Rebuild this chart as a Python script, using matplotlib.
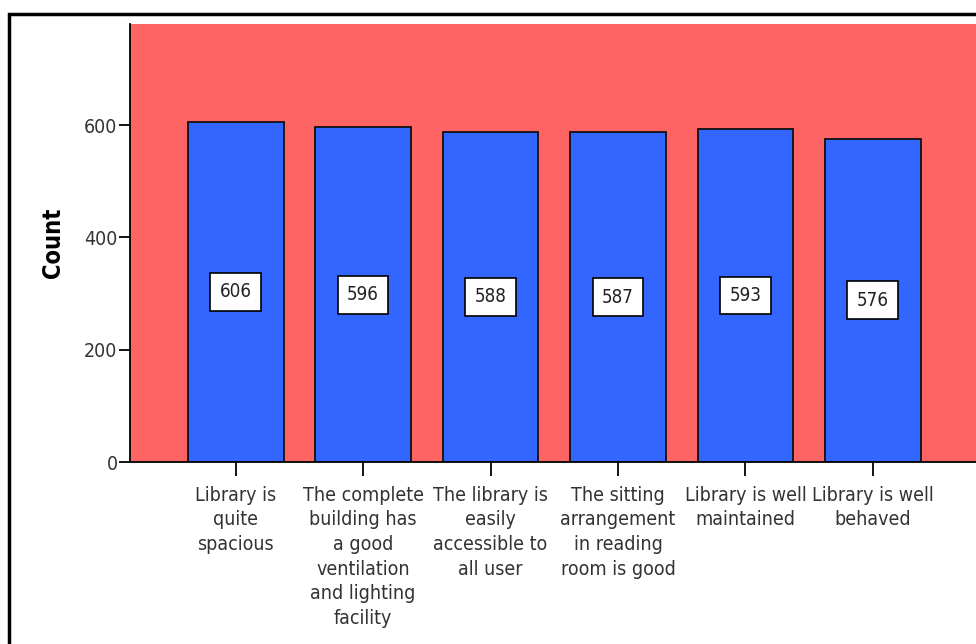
import matplotlib
matplotlib.use("Agg")
import matplotlib.pyplot as plt
from matplotlib.patches import Rectangle

# data
categories = ["Library is\nquite\nspacious",
              "The complete\nbuilding has\na good\nventilation\nand lighting\nfacility",
              "The library is\neasily\naccessible to\nall user",
              "The sitting\narrangement\nin reading\nroom is good",
              "Library is well\nmaintained",
              "Library is well\nbehaved"]
counts = [606, 596, 588, 587, 593, 576]
yticks = [0, 200, 400, 600]

plt.rcParams['font.family'] = ['DejaVu Sans']
plt.rcParams['font.stretch'] = 'condensed'

fig = plt.figure(figsize=(9.76, 6.44), dpi=100)
ax = fig.add_axes([0.1332, 0.2826, 0.8668, 0.6801])
ax.set_facecolor('#ff6464')

x = list(range(len(counts)))
ax.bar(x, counts, width=0.75, color='#3366ff', edgecolor='#111111', linewidth=1.3)

# value boxes at half height of each bar
for xi, c in zip(x, counts):
    ax.text(xi, c / 2, str(c), ha='center', va='center', fontsize=13.5, color='#222222',
            bbox=dict(boxstyle='square,pad=0.5', facecolor='white', edgecolor='black', linewidth=1.2))

ax.set_xlim(-0.83, 5.81)
ax.set_ylim(0, 780)
ax.set_xticks(x)
ax.set_xticklabels(categories, fontsize=14, color='#333333', linespacing=1.38)
ax.set_yticks(yticks)
ax.tick_params(axis='y', labelsize=14, labelcolor='#333333', length=8, width=1.3, direction='out', pad=1)
ax.tick_params(axis='x', length=10, width=1.3, direction='out', pad=7)
ax.set_ylabel('Count', fontsize=17, fontweight='bold', labelpad=14)

for s in ['top', 'right']:
    ax.spines[s].set_visible(False)
for s in ['left', 'bottom']:
    ax.spines[s].set_linewidth(1.3)

# outer frame of the figure
fig.patches.append(Rectangle((9 / 976, -0.1), 1.2, (644 - 14) / 644 + 0.1,
                             transform=fig.transFigure, fill=False,
                             edgecolor='black', linewidth=2.5, clip_on=False))

fig.savefig('out.png', dpi=100)
